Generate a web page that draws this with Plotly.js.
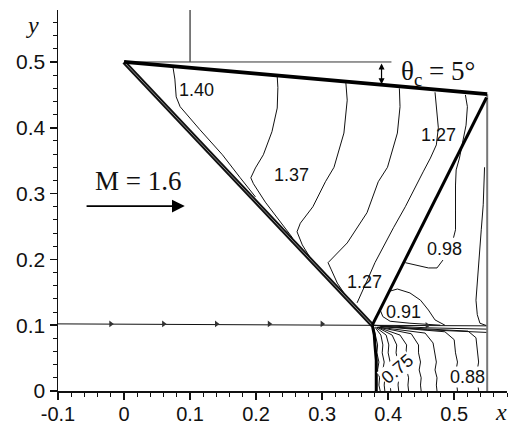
<!DOCTYPE html>
<html>
<head>
<meta charset="utf-8">
<script src="https://cdn.plot.ly/plotly-3.0.1.min.js"></script>
<style>
  html, body { margin: 0; padding: 0; background: #fff; }
  #chart { width: 508px; height: 425px; }
</style>
</head>
<body>
<div id="chart"></div>
<script>
// Axis ticks
const xTickVals = [-0.1, 0, 0.1, 0.2, 0.3, 0.4, 0.5];
const xTickText = ['-0.1', '0', '0.1', '0.2', '0.3', '0.4', '0.5'];
const yTickVals = [0, 0.1, 0.2, 0.3, 0.4, 0.5];
const yTickText = ['0', '0.1', '0.2', '0.3', '0.4', '0.5'];

// Geometry: wedge surface, outlet wall, reference lines
const wedgeX = [0, 0.55];
const wedgeY = [0.5, 0.451];
const wallX = [0.55, 0.55];
const wallY = [0, 0.451];
const refHorizX = [0, 0.405];
const refHorizY = [0.5, 0.5];
const refVertX = [0.1, 0.1];
const refVertY = [0.5, 0.579];

// Shock system
const incidentShockX = [0, 0.376];
const incidentShockY = [0.5, 0.1];
const reflectedShockX = [0.376, 0.549];
const reflectedShockY = [0.1, 0.446];
const machStemX = [0.376, 0.379, 0.380, 0.382, 0.382];
const machStemY = [0.100, 0.085, 0.070, 0.047, 0];

// Streamline and slip lines
const streamX = [-0.1, 0.376, 0.55];
const streamY = [0.102, 0.1, 0.099];
const streamArrowX = [-0.02, 0.06, 0.14, 0.22, 0.30, 0.459];
const streamArrowY = [0.102, 0.102, 0.102, 0.102, 0.102, 0.0995];
const slip1X = [0.376, 0.46, 0.55];
const slip1Y = [0.1, 0.096, 0.094];
const slip2X = [0.376, 0.46, 0.55];
const slip2Y = [0.1, 0.093, 0.089];

// Mach contours above the slip line
const c140X = [0.074, 0.077, 0.079, 0.085, 0.115, 0.149, 0.176, 0.199];
const c140Y = [0.493, 0.474, 0.447, 0.432, 0.397, 0.359, 0.324, 0.295];
const c137X = [0.232, 0.233, 0.232, 0.224, 0.211, 0.199, 0.192, 0.196, 0.214, 0.236, 0.255];
const c137Y = [0.478, 0.461, 0.430, 0.394, 0.359, 0.339, 0.324, 0.315, 0.287, 0.257, 0.233];
const c133X = [0.336, 0.338, 0.333, 0.318, 0.305, 0.286, 0.267, 0.262, 0.270, 0.286];
const c133Y = [0.468, 0.442, 0.392, 0.340, 0.318, 0.280, 0.255, 0.242, 0.222, 0.196];
const c130X = [0.417, 0.418, 0.414, 0.399, 0.385, 0.368, 0.338, 0.315, 0.309, 0.314, 0.323, 0.335];
const c130Y = [0.460, 0.432, 0.392, 0.340, 0.318, 0.271, 0.225, 0.202, 0.195, 0.184, 0.164, 0.146];
const c127X = [0.471, 0.474, 0.476, 0.473, 0.464, 0.453, 0.441, 0.426, 0.408, 0.392, 0.380, 0.370, 0.361, 0.353];
const c127Y = [0.454, 0.416, 0.400, 0.374, 0.354, 0.333, 0.309, 0.280, 0.248, 0.217, 0.195, 0.172, 0.151, 0.134];
const c098X = [0.517, 0.520, 0.518, 0.514, 0.508, 0.503, 0.502, 0.502, 0.502, 0.499, null, 0.483, 0.474, 0.461, 0.446, 0.426];
const c098Y = [0.450, 0.432, 0.404, 0.382, 0.354, 0.336, 0.313, 0.275, 0.245, 0.233, null, 0.199, 0.187, 0.187, 0.190, 0.195];
const cWallX = [0.546, 0.545, 0.544, 0.541, 0.538, 0.535, 0.533, 0.535, 0.539, 0.55];
const cWallY = [0.340, 0.313, 0.283, 0.245, 0.207, 0.169, 0.138, 0.116, 0.103, 0.099];
const c091aX = [0.400, 0.414, 0.433, 0.449, 0.461, 0.471, 0.486];
const c091aY = [0.151, 0.155, 0.149, 0.138, 0.123, 0.108, 0.100];
const c091bX = [0.392, 0.388, 0.392, 0.403, 0.433, 0.479];
const c091bY = [0.134, 0.123, 0.113, 0.106, 0.103, 0.100];

// Mach contours in the subsonic region behind the Mach stem
const lowY = [0.097, 0.085, 0.070, 0.058, 0.044, 0.032, 0.020, 0.009, 0];
const lowContoursX = [
  [0.378, 0.381, 0.384, 0.383, 0.386, 0.384, 0.387, 0.386, 0.388],
  [0.380, 0.389, 0.392, 0.391, 0.394, 0.392, 0.395, 0.394, 0.395],
  [0.381, 0.397, 0.401, 0.400, 0.403, 0.401, 0.404, 0.403, 0.404],
  [0.383, 0.406, 0.413, 0.412, 0.415, 0.413, 0.416, 0.415, 0.416],
  [0.384, 0.418, 0.428, 0.427, 0.430, 0.428, 0.431, 0.430, 0.431],
  [0.385, 0.435, 0.446, 0.446, 0.449, 0.447, 0.450, 0.449, 0.450],
  [0.386, 0.456, 0.468, 0.470, 0.473, 0.471, 0.474, 0.473, 0.474],
  [0.388, 0.486, 0.500, 0.502, 0.505, 0.503, 0.505, 0.504, 0.505],
  [0.389, 0.521, 0.533, 0.535, 0.537, 0.535, 0.537, 0.536, 0.537]
];
const lowContoursY = [
  lowY, lowY, lowY, lowY, lowY,
  [0.097, 0.087, 0.070, 0.058, 0.044, 0.032, 0.020, 0.009, 0],
  [0.097, 0.088, 0.073, 0.058, 0.044, 0.032, 0.020, 0.009, 0],
  [0.098, 0.090, 0.078, 0.058, 0.044, 0.032, 0.020, 0.009, 0],
  [0.098, 0.091, 0.081, 0.058, 0.044, 0.032, 0.020, 0.009, 0]
];

// Contour labels
const labelText = ['1.40', '1.37', '1.27', '1.27', '0.98', '0.91', '0.75', '0.88'];
const labelX = [0.109, 0.253, 0.476, 0.364, 0.485, 0.424, 0.414, 0.520];
const labelY = [0.457, 0.328, 0.389, 0.166, 0.216, 0.120, 0.033, 0.021];
const labelAngle = [0, 0, 0, 0, 0, 0, -40, 0];
const labelBg = [false, false, false, false, false, false, true, true];

// Free-stream arrow
const flowArrowX = [-0.059, 0.092];
const flowArrowY = [0.281, 0.281];
// Deflection-angle marker
const angleMarkX = [0.39, 0.39];
const angleMarkY = [0.5, 0.466];

const traces = [];
function line(x, y, color, width) {
  traces.push({
    x: x, y: y, type: 'scatter', mode: 'lines',
    line: { color: color, width: width },
    hoverinfo: 'skip', showlegend: false, connectgaps: false
  });
}

// thin contours
const thin = '#111';
line(c140X, c140Y, thin, 1);
line(c137X, c137Y, thin, 1);
line(c133X, c133Y, thin, 1);
line(c130X, c130Y, thin, 1);
line(c127X, c127Y, thin, 1);
line(c098X, c098Y, thin, 1);
line(cWallX, cWallY, thin, 1);
line(c091aX, c091aY, thin, 1);
line(c091bX, c091bY, thin, 1);
for (let i = 0; i < lowContoursX.length; i++) {
  line(lowContoursX[i], lowContoursY[i], thin, 1);
}
line(slip1X, slip1Y, thin, 1);
line(slip2X, slip2Y, thin, 1);
line(streamX, streamY, thin, 1);

// reference lines and wall
line(refHorizX, refHorizY, '#333', 1);
line(refVertX, refVertY, '#555', 1.5);
line(wallX, wallY, '#777', 2);

// shocks and wedge
line(incidentShockX, incidentShockY, '#111', 4.2);
line(incidentShockX, incidentShockY, '#8a8a8a', 1);
line(reflectedShockX, reflectedShockY, '#000', 3);
line(machStemX, machStemY, '#000', 3);
line(wedgeX, wedgeY, '#000', 3.8);

// streamline arrowheads
traces.push({
  x: streamArrowX, y: streamArrowY, type: 'scatter', mode: 'markers',
  marker: { symbol: 'triangle-right', size: 6, color: '#333' },
  hoverinfo: 'skip', showlegend: false
});

const annotations = [];
for (let i = 0; i < labelText.length; i++) {
  annotations.push({
    x: labelX[i], y: labelY[i], xref: 'x', yref: 'y',
    text: labelText[i], showarrow: false, textangle: labelAngle[i],
    font: { family: 'Liberation Sans, Arial, sans-serif', size: 18, color: '#111' },
    bgcolor: labelBg[i] ? '#fff' : 'rgba(0,0,0,0)', borderpad: 0
  });
}
// free-stream arrow
annotations.push({
  x: flowArrowX[1], y: flowArrowY[1], ax: flowArrowX[0], ay: flowArrowY[0],
  xref: 'x', yref: 'y', axref: 'x', ayref: 'y', text: '',
  showarrow: true, arrowhead: 2, arrowsize: 1.6, arrowwidth: 1.6, arrowcolor: '#000', standoff: 0
});
annotations.push({
  x: 0.021, y: 0.319, xref: 'x', yref: 'y', text: 'M = 1.6', showarrow: false,
  font: { family: 'Liberation Serif, Times New Roman, serif', size: 27, color: '#111' }
});
// deflection angle marker
annotations.push({
  x: angleMarkX[1], y: angleMarkY[1], ax: angleMarkX[0], ay: angleMarkY[0],
  xref: 'x', yref: 'y', axref: 'x', ayref: 'y', text: '',
  showarrow: true, arrowhead: 2, arrowside: 'end+start', arrowsize: 1, arrowwidth: 1.2,
  arrowcolor: '#000', standoff: 0, startstandoff: 0
});
annotations.push({
  x: 0.476, y: 0.483, xref: 'x', yref: 'y', text: 'θ<sub>c</sub> = 5°', showarrow: false,
  font: { family: 'Liberation Serif, Times New Roman, serif', size: 27, color: '#111' }
});
// axis names
annotations.push({
  x: -0.0557, y: 0.9606, xref: 'paper', yref: 'paper', xanchor: 'center', yanchor: 'middle',
  text: '<i>y</i>', showarrow: false,
  font: { family: 'Liberation Serif, Times New Roman, serif', size: 24, color: '#111' }
});
annotations.push({
  x: 0.9866, y: -0.0551, xref: 'paper', yref: 'paper', xanchor: 'center', yanchor: 'middle',
  text: '<i>x</i>', showarrow: false,
  font: { family: 'Liberation Serif, Times New Roman, serif', size: 24, color: '#111' }
});

const yTickFont = { family: 'Liberation Sans, Arial, sans-serif', size: 21, color: '#111' };
const xTickFont = { family: 'Liberation Sans, Arial, sans-serif', size: 20, color: '#111' };
const layout = {
  width: 508, height: 425,
  margin: { l: 58, r: 1, t: 10, b: 34 },
  paper_bgcolor: '#fff', plot_bgcolor: '#fff',
  showlegend: false,
  xaxis: {
    range: [-0.1, 0.58], tickmode: 'array', tickvals: xTickVals, ticktext: xTickText,
    showgrid: false, zeroline: false, showline: true, linecolor: '#111', linewidth: 1.5,
    ticks: 'outside', ticklen: 7, tickwidth: 1.5, tickcolor: '#111', tickfont: xTickFont,
    ticklabelstandoff: -3,
    minor: { tickmode: 'linear', tick0: 0, dtick: 0.02, ticks: 'outside', ticklen: 4, tickwidth: 1, tickcolor: '#111', showgrid: false }
  },
  yaxis: {
    range: [0, 0.579], tickmode: 'array', tickvals: yTickVals, ticktext: yTickText,
    showgrid: false, zeroline: false, showline: true, linecolor: '#111', linewidth: 1.5,
    ticks: 'outside', ticklen: 7, tickwidth: 1.5, tickcolor: '#111', tickfont: yTickFont,
    minor: { tickmode: 'linear', tick0: 0, dtick: 0.02, ticks: 'outside', ticklen: 4, tickwidth: 1, tickcolor: '#111', showgrid: false }
  },
  annotations: annotations
};

Plotly.newPlot('chart', traces, layout, { staticPlot: true, displayModeBar: false });
</script>
</body>
</html>
